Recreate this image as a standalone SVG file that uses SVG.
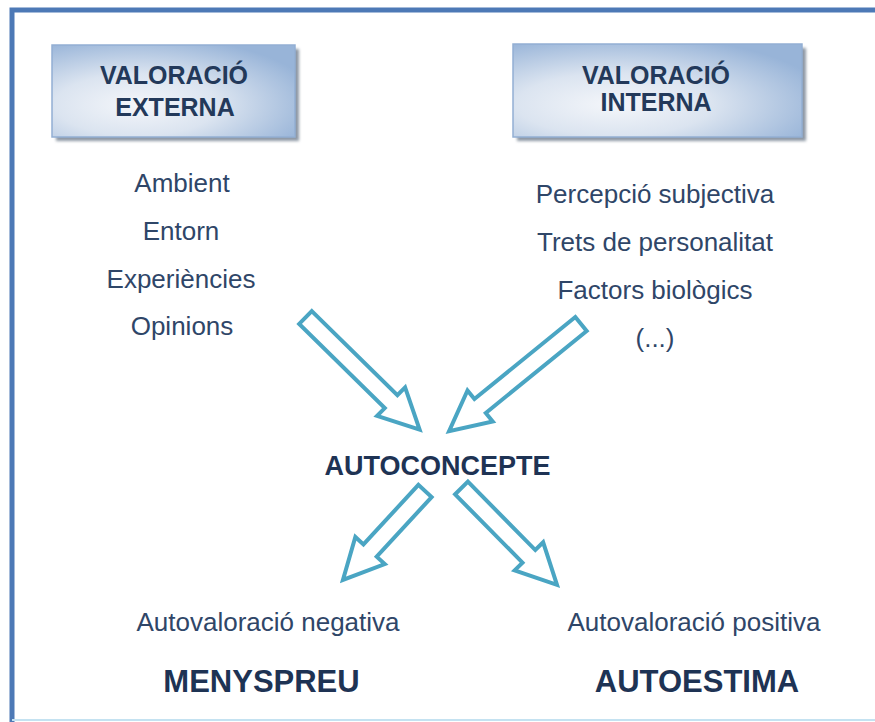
<svg xmlns="http://www.w3.org/2000/svg" width="875" height="722" viewBox="0 0 875 722">
  <defs>
    <radialGradient id="boxg" cx="0.35" cy="0.65" r="0.75">
      <stop offset="0" stop-color="#f4f6fa"/>
      <stop offset="0.45" stop-color="#dbe4f0"/>
      <stop offset="1" stop-color="#98b4d8"/>
    </radialGradient>
    <filter id="sh" x="-10%" y="-10%" width="130%" height="140%">
      <feGaussianBlur stdDeviation="1.5"/>
    </filter>
  </defs>
  <style>
    .frame{fill:none;stroke:#4d79b6;stroke-width:5}
    .box{fill:url(#boxg);stroke:#93afd3;stroke-width:1.5}
    .shadow{fill:#8e98a4;filter:url(#sh)}
    .hdr{font-family:"Liberation Sans",Arial,sans-serif;font-weight:bold;font-size:25px;fill:#23395a;text-anchor:middle}
    .item{font-family:"Liberation Sans",Arial,sans-serif;font-size:26px;fill:#2f4668;text-anchor:middle}
    .big{font-family:"Liberation Sans",Arial,sans-serif;font-weight:bold;fill:#1e3354;text-anchor:middle}
    .arr{fill:#ffffff;stroke:#4aa5c3;stroke-width:4;stroke-linejoin:miter}
  </style>
  <rect width="875" height="722" fill="#ffffff"/>
  <g id="frame">
    <path class="frame" d="M12,722 L12,10 L875,10"/>
    <line x1="12" y1="720" x2="875" y2="720" stroke="#c4e2f1" stroke-width="2"/>
  </g>

  <g id="valoracio-externa">
    <rect class="shadow" x="56" y="49" width="243" height="92"/>
    <rect class="box" x="52" y="45" width="243" height="92"/>
    <text class="hdr" x="174" y="84">VALORACIÓ</text>
    <text class="hdr" x="175" y="116">EXTERNA</text>
  </g>

  <g id="valoracio-interna">
    <rect class="shadow" x="517" y="48" width="289" height="93"/>
    <rect class="box" x="513" y="44" width="289" height="93"/>
    <text class="hdr" x="656" y="84">VALORACIÓ</text>
    <text class="hdr" x="656" y="111">INTERNA</text>
  </g>

  <g id="externa-list">
    <text class="item" x="182" y="192">Ambient</text>
    <text class="item" x="181" y="240">Entorn</text>
    <text class="item" x="181" y="288">Experiències</text>
    <text class="item" x="182" y="335">Opinions</text>
  </g>

  <g id="interna-list">
    <text class="item" x="655" y="203">Percepció subjectiva</text>
    <text class="item" x="655" y="251">Trets de personalitat</text>
    <text class="item" x="655" y="299">Factors biològics</text>
    <text class="item" x="655" y="347">(...)</text>
  </g>

  <g id="autoconcepte">
    <text class="big" x="437.5" y="475" font-size="27">AUTOCONCEPTE</text>
  </g>

  <g id="negativa">
    <text class="item" x="268" y="631" font-size="27">Autovaloració negativa</text>
    <text class="big" x="261.5" y="692" font-size="31">MENYSPREU</text>
  </g>

  <g id="positiva">
    <text class="item" x="694" y="631" font-size="27">Autovaloració positiva</text>
    <text class="big" x="697" y="692" font-size="31">AUTOESTIMA</text>
  </g>

  <g id="connectors">
    <path class="arr" transform="translate(305.5,317.5) rotate(44.5)" d="M0,-9 L120,-9 L120,-20 L160,0 L120,20 L120,9 L0,9 Z"/>
    <path class="arr" transform="translate(581,324) rotate(140.9)" d="M0,-9 L130,-9 L130,-20 L170,0 L130,20 L130,9 L0,9 Z"/>
    <path class="arr" transform="translate(425,491) rotate(132.7)" d="M0,-9 L81,-9 L81,-20 L121,0 L81,20 L81,9 L0,9 Z"/>
    <path class="arr" transform="translate(461.5,488) rotate(45.4)" d="M0,-9 L96,-9 L96,-20 L136,0 L96,20 L96,9 L0,9 Z"/>
  </g>
</svg>
